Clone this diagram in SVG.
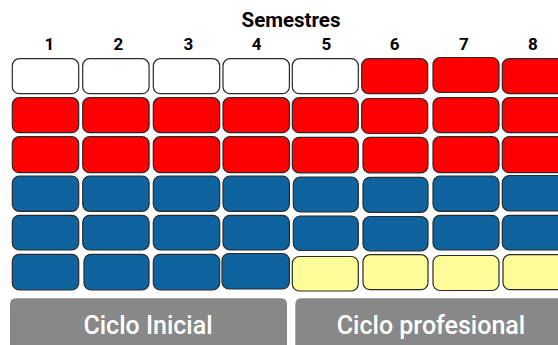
<svg xmlns="http://www.w3.org/2000/svg" width="558" height="345" viewBox="0 0 558 345">
<style>
.c{stroke:#2a2a2a;stroke-width:1.2;rx:7;ry:7}
.w{fill:#ffffff}.r{fill:#ff0000}.b{fill:#0f64a0}.y{fill:#fdfc99}
.t{font-family:Roboto,"DejaVu Sans",sans-serif;font-weight:bold;fill:#000;text-anchor:middle}
.bar{fill:#888888}
.bt{font-family:Roboto,"DejaVu Sans",sans-serif;font-weight:500;font-size:25px;fill:#fff;text-anchor:middle}
</style>
<g id="title"><text class="t" x="291" y="27" font-size="20.5">Semestres</text></g>
<g id="numbers">
<text class="t" x="49.3" y="50" font-size="17">1</text>
<text class="t" x="118.3" y="50" font-size="17">2</text>
<text class="t" x="188.3" y="50" font-size="17">3</text>
<text class="t" x="256.7" y="50" font-size="17">4</text>
<text class="t" x="326.3" y="50" font-size="17">5</text>
<text class="t" x="394.7" y="50" font-size="17">6</text>
<text class="t" x="464" y="50" font-size="17">7</text>
<text class="t" x="533" y="50" font-size="17">8</text>
</g>
<g id="row1">
<rect class="c w" x="12.3" y="58.7" width="66.4" height="35"/>
<rect class="c w" x="82.7" y="58.7" width="66.4" height="35"/>
<rect class="c w" x="153.3" y="58.7" width="66.4" height="35"/>
<rect class="c w" x="223" y="58.7" width="66.4" height="35"/>
<rect class="c w" x="292.3" y="58.7" width="66" height="35"/>
<rect class="c r" x="361.7" y="58.7" width="66" height="35"/>
<rect class="c r" x="433" y="57.5" width="66" height="35"/>
<rect class="c r" x="502.3" y="58.7" width="66" height="35"/>
</g>
<g id="row2">
<rect class="c r" x="12.3" y="97.7" width="66.4" height="35"/>
<rect class="c r" x="82.7" y="97.7" width="66.4" height="35"/>
<rect class="c r" x="153.3" y="97.7" width="66.4" height="35"/>
<rect class="c r" x="223" y="97.7" width="66.4" height="35"/>
<rect class="c r" x="292.3" y="97.7" width="66" height="35"/>
<rect class="c r" x="361.7" y="98.5" width="66" height="35"/>
<rect class="c r" x="433" y="97.7" width="66" height="35"/>
<rect class="c r" x="502.3" y="97.7" width="66" height="35"/>
</g>
<g id="row3">
<rect class="c r" x="12.3" y="136.7" width="66.4" height="36"/>
<rect class="c r" x="82.7" y="136.7" width="66.4" height="36"/>
<rect class="c r" x="153.3" y="136.7" width="66.4" height="36"/>
<rect class="c r" x="223" y="136.7" width="66.4" height="36"/>
<rect class="c r" x="292.3" y="137.3" width="66" height="35.5"/>
<rect class="c r" x="363" y="137.3" width="65" height="35.5"/>
<rect class="c r" x="433" y="136.7" width="66" height="36"/>
<rect class="c r" x="502.3" y="136.7" width="66" height="36"/>
</g>
<g id="row4">
<rect class="c b" x="12.3" y="176" width="66.4" height="35.3"/>
<rect class="c b" x="82.7" y="176" width="66.4" height="35.3"/>
<rect class="c b" x="153.3" y="176" width="66.4" height="35.3"/>
<rect class="c b" x="223" y="176" width="66.4" height="35.3"/>
<rect class="c b" x="293.3" y="177" width="65" height="35"/>
<rect class="c b" x="363" y="177.3" width="65" height="35"/>
<rect class="c b" x="433" y="176" width="66" height="35.3"/>
<rect class="c b" x="502.3" y="175.5" width="66" height="35.3"/>
</g>
<g id="row5">
<rect class="c b" x="12.3" y="215.3" width="66.4" height="34.7"/>
<rect class="c b" x="82.7" y="215.3" width="66.4" height="34.7"/>
<rect class="c b" x="153.3" y="215.3" width="66.4" height="34.7"/>
<rect class="c b" x="223" y="215.3" width="66.4" height="34.7"/>
<rect class="c b" x="293.3" y="216" width="65" height="34.5"/>
<rect class="c b" x="363" y="216.5" width="65" height="34.5"/>
<rect class="c b" x="433" y="215.3" width="66" height="34.7"/>
<rect class="c b" x="502.3" y="215.3" width="66" height="34.7"/>
</g>
<g id="row6">
<rect class="c b" x="12.3" y="254.3" width="66.4" height="35.7"/>
<rect class="c b" x="84" y="254.3" width="65" height="35.7"/>
<rect class="c b" x="153.3" y="254.3" width="66.4" height="35.7"/>
<rect class="c b" x="222" y="253.5" width="67.4" height="35.5"/>
<rect class="c y" x="292.3" y="256.5" width="66" height="34.5"/>
<rect class="c y" x="363" y="254.7" width="65" height="35"/>
<rect class="c y" x="433" y="255.5" width="66" height="35"/>
<rect class="c y" x="503" y="254.7" width="66" height="35"/>
</g>
<g id="ciclo-inicial">
<path class="bar" d="M10 345 V304.3 Q10 298.3 16 298.3 H281 Q287 298.3 287 304.3 V345 Z"/>
<text class="bt" x="148" y="334">Ciclo Inicial</text>
</g>
<g id="ciclo-profesional">
<path class="bar" d="M295.3 345 V304.3 Q295.3 298.3 301.3 298.3 H558 V345 Z"/>
<text class="bt" x="431" y="334">Ciclo profesional</text>
</g>
<g id="connectors"/>
</svg>
